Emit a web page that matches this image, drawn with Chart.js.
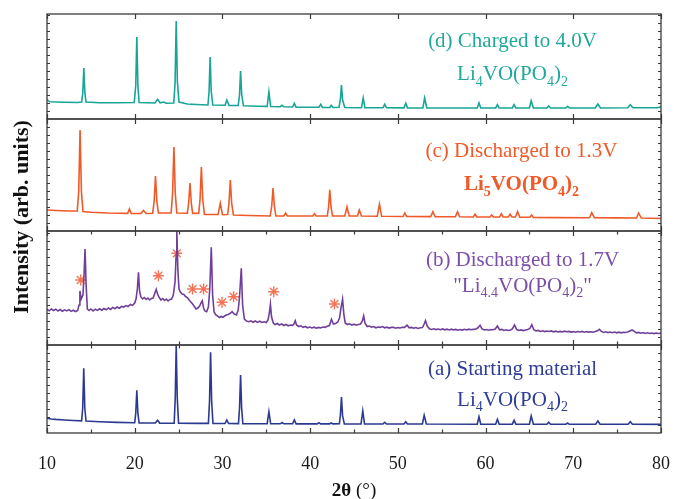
<!DOCTYPE html>
<html>
<head>
<meta charset="utf-8">
<script src="https://cdn.jsdelivr.net/npm/chart.js@4.4.1/dist/chart.umd.min.js"></script>
<style>
html,body{margin:0;padding:0;background:#fff;}
#wrap{position:relative;width:674px;height:499px;}
</style>
</head>
<body>
<div id="wrap"><canvas id="c" width="674" height="499"></canvas></div>
<script>
// ---- Data (2θ in degrees, intensity in arbitrary units per panel) ----
const xTicks = [10, 20, 30, 40, 50, 60, 70, 80];

const patternA = [[10,14.7],[10.5,14],[11,13.6],[12,13],[13,12.5],[13.95,12.2],[14.07,25],[14.19,64.7],[14.31,25],[14.45,12],[16,11.3],[18,10.6],[20.0,10.2],[20.12,20],[20.24,42.7],[20.36,20],[20.5,10.1],[22.35,10],[22.6,12.7],[22.85,9.9],[24.5,9.8],[24.62,35],[24.73,87.5],[24.85,35],[25.0,9.8],[27,9.6],[28.4,9.6],[28.53,32],[28.65,80.7],[28.77,32],[28.92,9.5],[30.3,9.5],[30.5,13],[30.7,9.5],[31.83,9.4],[31.95,25],[32.07,58],[32.19,25],[32.33,9.3],[35.1,9.3],[35.3,21.3],[35.5,9.2],[36.6,9.2],[36.8,10.5],[37,9.2],[38,9.2],[38.2,13],[38.4,9.1],[40.8,9.1],[41.0,10.3],[41.2,9.1],[42.2,9.1],[42.4,10],[42.6,9.1],[43.33,9.2],[43.45,18],[43.57,36],[43.7,17],[43.9,9.1],[45.8,9],[46.0,22],[46.2,9],[48.3,9],[48.5,10.7],[48.7,9],[50.7,9],[50.9,11.3],[51.1,9],[52.8,9],[53.0,17.7],[53.25,9],[59.05,8.8],[59.25,16.3],[59.45,8.8],[61.15,8.8],[61.35,13.7],[61.55,8.8],[63.05,8.8],[63.25,12.7],[63.45,8.8],[65.0,8.8],[65.2,17],[65.45,8.7],[67.0,8.7],[67.2,10.7],[67.4,8.7],[69.15,8.7],[69.35,10],[69.55,8.7],[72.55,8.7],[72.8,12],[73.05,8.7],[76.25,8.7],[76.5,11.3],[76.75,8.7],[80,8.6]];

const patternB = [[10,35.7],[10.25,34.2],[10.5,36],[10.75,34.5],[11,35.8],[11.25,34],[11.5,35.5],[11.75,33.8],[12,35.2],[12.25,34.1],[12.5,35.4],[12.75,33.6],[13,34.8],[13.25,33.5],[13.5,34.6],[13.65,40],[13.75,54],[13.9,46],[14.1,50],[14.22,70],[14.34,96],[14.46,60],[14.6,36],[14.8,34.5],[15,36],[15.25,34],[15.5,35.8],[15.75,34.6],[16,36.2],[16.25,34.8],[16.5,36.5],[16.75,35.2],[17,37],[17.25,35.6],[17.5,37.5],[17.75,36.4],[18,38],[18.25,36.8],[18.5,38.6],[18.75,37.8],[19,39.4],[19.25,38.4],[19.5,40.5],[19.75,39.6],[20,42],[20.15,46],[20.3,56],[20.43,72.7],[20.55,54],[20.7,48],[20.9,46],[21.1,47.5],[21.3,45.5],[21.5,47],[21.7,45],[21.9,46.5],[22.1,47],[22.3,52],[22.45,55.7],[22.6,51],[22.8,47.5],[23,45],[23.2,46.5],[23.4,44.5],[23.6,46],[23.8,44],[24,45.5],[24.2,46],[24.4,50],[24.6,63.3],[24.72,90],[24.8,114],[24.92,75],[25.05,56],[25.2,53],[25.4,51],[25.6,50.5],[25.8,48.5],[26,47.5],[26.2,45],[26.4,43],[26.6,41],[26.8,38.5],[27,36],[27.2,37],[27.4,39],[27.55,42],[27.7,44.3],[27.85,37],[28,34],[28.2,33.3],[28.4,38],[28.55,55],[28.73,97.7],[28.88,50],[29.05,33],[29.25,30],[29.45,29],[29.65,27.5],[29.85,28.5],[30.05,27.7],[30.25,29],[30.45,30],[30.65,30.5],[30.85,31.5],[31.1,33.3],[31.35,31],[31.6,30],[31.8,35],[31.95,48],[32.15,76.7],[32.3,40],[32.5,26],[32.75,24],[33,23.3],[33.25,24.2],[33.5,22.8],[33.75,24],[34,22.6],[34.25,23.8],[34.5,22.5],[34.75,23.2],[35,22.5],[35.2,25],[35.35,32],[35.47,41],[35.6,28],[35.8,22],[36,20.5],[36.25,21.5],[36.5,20],[36.75,21],[37,19.5],[37.25,20.5],[37.5,19.2],[37.75,20],[38,19.6],[38.15,21],[38.3,24.3],[38.45,20],[38.7,18.5],[38.95,19.2],[39.2,17.6],[39.45,18.5],[39.7,17.2],[39.95,18],[40.2,17],[40.45,17.8],[40.7,16.8],[40.95,17.6],[41.2,17],[41.45,18],[41.7,17.6],[41.95,18.8],[42.2,19.5],[42.43,25.7],[42.65,21],[42.9,21.5],[43.15,23],[43.35,27],[43.5,36],[43.7,45.8],[43.85,30],[44,22],[44.25,20.5],[44.5,21.2],[44.75,20],[45,20.8],[45.25,19.8],[45.5,20.5],[45.75,21],[45.95,24],[46.1,29],[46.25,22],[46.5,18.5],[46.75,19],[47,17.8],[47.25,18.5],[47.5,17.2],[47.75,18],[48,17.6],[48.25,18.4],[48.5,17.2],[48.75,17.8],[49,16.9],[49.25,17.6],[49.5,17.8],[49.75,16.8],[50,17.4],[50.25,17],[50.5,17.8],[50.75,17.6],[51.05,19.8],[51.3,17.2],[51.55,17.6],[51.8,16.8],[52.05,17.4],[52.3,16.6],[52.55,17.2],[52.8,17.5],[53.0,21],[53.15,24.3],[53.35,19],[53.6,16.2],[53.85,15.6],[54.1,16.2],[54.35,15.4],[54.6,16],[54.85,15.3],[55.1,16.1],[55.35,15.2],[55.6,15.8],[55.85,15],[56.1,15.8],[56.35,15.1],[56.6,15.6],[56.85,14.8],[57.1,15.5],[57.35,14.9],[57.6,15.7],[57.85,15],[58.1,15.8],[58.35,15.2],[58.6,15.6],[58.85,15.8],[59.1,17],[59.37,19.7],[59.6,16],[59.85,15],[60.1,15.5],[60.35,14.8],[60.6,15.4],[60.85,15.2],[61.1,16],[61.35,19],[61.6,15.2],[61.85,15.6],[62.1,14.6],[62.35,15.2],[62.6,14.5],[62.85,15],[63.05,16],[63.3,20],[63.55,15.4],[63.8,14.5],[64.05,15.1],[64.3,14.4],[64.55,15],[64.8,15.4],[65.05,16.5],[65.27,20.3],[65.5,15.2],[65.75,14],[66,14.6],[66.25,13.6],[66.5,14.2],[66.75,13.4],[67,14],[67.25,13.5],[67.5,14.1],[67.75,13.2],[68,13.8],[68.25,13],[68.5,13.6],[68.75,13.1],[69,13.8],[69.25,13.2],[69.5,13.6],[69.75,12.9],[70,13.4],[70.25,12.8],[70.5,13.5],[70.75,13],[71,13.6],[71.25,12.8],[71.5,13.4],[71.75,12.9],[72,13.3],[72.25,12.8],[72.5,13.4],[72.75,14.2],[72.97,15.7],[73.2,13.6],[73.45,12.6],[73.7,13.2],[73.95,12.4],[74.2,13],[74.45,12.3],[74.7,12.9],[74.95,12.2],[75.2,12.8],[75.45,12.2],[75.7,12.8],[75.95,12.5],[76.2,13],[76.45,14],[76.7,15],[76.95,13.6],[77.2,12.2],[77.45,12.6],[77.7,11.8],[77.95,12.4],[78.2,11.6],[78.45,12.2],[78.7,11.5],[78.95,12],[79.2,11.4],[79.45,12],[79.7,11.5],[80,11.7]];

const patternC = [[10,21],[11,20.5],[12.5,20],[13.45,20],[13.62,40],[13.77,101],[13.92,40],[14.1,19.5],[15,18.8],[17,18],[19.2,17.6],[19.4,22],[19.6,17.5],[20.7,17.6],[21.0,20.5],[21.3,17.5],[22.05,17.8],[22.22,30],[22.37,55],[22.52,30],[22.7,18],[24.15,18],[24.32,38],[24.47,84],[24.62,38],[24.8,18],[26.0,17.8],[26.15,28],[26.3,48],[26.45,28],[26.6,17.6],[27.3,17.8],[27.45,32],[27.6,64],[27.75,32],[27.95,16.5],[29.5,16.5],[29.76,27.7],[30.0,16.3],[30.6,16.5],[30.75,28],[30.9,51],[31.05,28],[31.25,16],[33,15.5],[35.45,15],[35.62,25],[35.77,43],[35.92,25],[36.1,15],[37.0,15],[37.2,18],[37.4,15],[40.3,15],[40.5,17.3],[40.7,15],[41.95,15],[42.1,24],[42.24,41.3],[42.38,24],[42.55,15],[43.95,15],[44.2,24],[44.45,15],[45.4,15],[45.6,21],[45.85,15],[47.65,14.8],[47.9,26.7],[48.15,14.7],[50.6,14.5],[50.8,18],[51.0,14.5],[53.75,14.4],[54.0,19.3],[54.25,14.3],[56.55,14.2],[56.8,19.3],[57.05,14.2],[58.6,14],[58.8,16.7],[59.0,14],[60.5,14],[60.7,16],[60.9,14],[61.6,14],[61.8,17.3],[62.0,14],[62.6,14],[62.8,16.7],[63.0,14],[63.4,14],[63.65,19.3],[63.9,13.8],[65.05,13.8],[65.25,16],[65.45,13.6],[68,13.4],[71.85,13.3],[72.1,18.3],[72.4,13.3],[75,13.1],[77.2,13],[77.45,18],[77.75,13],[80,12.5]];

const patternD = [[10.0,19.5],[10.3,17.2],[11,17],[12,16.7],[13.5,16.5],[13.95,17],[14.08,26],[14.2,51],[14.32,26],[14.45,17],[16,16.3],[18,16.2],[19.95,16.5],[20.12,34],[20.24,82],[20.36,34],[20.5,16.5],[22.3,16],[22.6,19.7],[22.9,16.2],[23.3,17],[23.6,15.8],[24.45,16],[24.6,36],[24.73,98],[24.86,38],[25.05,17],[26,15],[27,14.5],[28.35,14],[28.48,28],[28.6,62],[28.72,28],[28.9,14],[30.3,13.8],[30.5,19],[30.75,13.6],[31.8,13.5],[31.95,24],[32.07,48],[32.2,24],[32.4,13.2],[34,12.8],[35.1,12.6],[35.3,27],[35.5,12.5],[36.6,12.3],[36.8,13.7],[37,12.2],[38,12],[38.2,15.7],[38.4,11.9],[41,11.7],[41.2,14.7],[41.4,11.6],[42.25,11.5],[42.4,13.7],[42.6,11.5],[43.3,11.8],[43.45,20],[43.57,34],[43.7,19],[43.95,11.5],[45.85,11.3],[46.05,21],[46.25,11.3],[48.3,11.2],[48.5,14.7],[48.7,11.2],[50.7,11.1],[50.9,15.7],[51.1,11.1],[52.85,11],[53.05,21],[53.3,11],[56,11],[59.05,11],[59.25,16],[59.45,11],[61.15,11],[61.35,14.3],[61.55,11],[63.05,11],[63.25,14.3],[63.45,11],[65,11],[65.2,18.3],[65.45,11],[67,11],[67.2,13],[67.4,11],[69.15,11],[69.35,12.7],[69.55,11],[72.5,11],[72.8,15],[73.1,11],[76.2,11.2],[76.5,14.3],[76.8,11.2],[79.6,11.3],[80,12.2]];

// impurity markers (*) in pattern (b)
const starTheta     = [13.85, 22.7, 24.8, 26.6, 27.85, 29.95, 31.27, 35.85, 42.77];
const starIntensity = [65,    69.3, 91.7, 56,   56,    42.7,  48.3,  53.3,  41];

// panel ranges (arb. units) — bottom to top: a, b, c, d
const panelMax = [88, 114, 112, 105];

const lineColors = ['#2B3990', '#6F3F9A', '#F05A28', '#17A597'];
const textColors = ['#2E3D98', '#7A4FA8', '#F05A28', '#1FA99A'];
const starColor = '#F47458';

const panelTitles = ['(a) Starting material', '(b) Discharged to 1.7V', '(c) Discharged to 1.3V', '(d) Charged to 4.0V'];
// formula parts: [text, isSubscript]
const panelFormulas = [
  [['Li',0],['4',1],['VO(PO',0],['4',1],[')',0],['2',1]],
  [['"Li',0],['4.4',1],['VO(PO',0],['4',1],[')',0],['2',1],['"',0]],
  [['Li',0],['5',1],['VO(PO',0],['4',1],[')',0],['2',1]],
  [['Li',0],['4',1],['VO(PO',0],['4',1],[')',0],['2',1]]
];
const formulaBold = [false, false, true, false];
const yTitle = 'Intensity (arb. units)';

// ---- Chart ----
const SERIF = "'Liberation Serif', 'Times New Roman', serif";
const panelIds = ['ya', 'yb', 'yc', 'yd'];

function toXY(arr){ return arr.map(p => ({x: p[0], y: p[1]})); }

const patterns = [patternA, patternB, patternC, patternD];
const datasets = patterns.map((p, i) => ({
  type: 'line',
  data: toXY(p),
  yAxisID: panelIds[i],
  borderColor: lineColors[i],
  borderWidth: 1.6,
  pointRadius: 0,
  tension: 0,
  fill: false
}));
datasets.push({
  type: 'scatter',
  data: starTheta.map((t, i) => ({x: t, y: starIntensity[i]})),
  yAxisID: 'yb',
  pointStyle: 'star',
  pointRadius: 5.5,
  borderColor: starColor,
  backgroundColor: starColor,
  borderWidth: 1.4
});

const yScales = {};
panelIds.forEach((id, i) => {
  yScales[id] = {
    type: 'linear',
    position: 'left',
    stack: 'panels',
    stackWeight: panelMax[i],
    min: 0,
    max: panelMax[i],
    ticks: {display: false},
    grid: {display: false, drawTicks: false},
    border: {display: false},
    afterFit: s => { s.width = 0; }
  };
});

function drawRich(ctx, parts, cx, baseline, size, bold, color){
  const w = bold ? 'bold ' : '';
  const mainF = w + size + 'px ' + SERIF;
  const subF = w + Math.round(size * 0.68) + 'px ' + SERIF;
  let total = 0;
  parts.forEach(p => { ctx.font = p[1] ? subF : mainF; total += ctx.measureText(p[0]).width; });
  let x = cx - total / 2;
  ctx.fillStyle = color;
  ctx.textAlign = 'left';
  ctx.textBaseline = 'alphabetic';
  parts.forEach(p => {
    ctx.font = p[1] ? subF : mainF;
    ctx.fillText(p[0], x, p[1] ? baseline + size * 0.28 : baseline);
    x += ctx.measureText(p[0]).width;
  });
}

// layout of annotation text relative to panel top (pixels)
const titlePos = [[512.5, 29.5, 60.5], [522.5, 35, 60.5], [521.5, 38, 71], [512.5, 32.5, 66]];

const framePlugin = {
  id: 'frames',
  afterDraw(chart){
    const ctx = chart.ctx;
    const xs = chart.scales.x;
    const L = chart.chartArea.left, R = chart.chartArea.right;
    ctx.save();
    panelIds.forEach((id, i) => {
      const s = chart.scales[id];
      const top = s.top, bot = s.bottom;
      ctx.strokeStyle = '#3a3a3a';
      ctx.lineWidth = 1.3;
      ctx.strokeRect(L, top, R - L, bot - top);
      // x ticks (inward)
      ctx.lineWidth = 1.2;
      for (let v = 10; v <= 80; v += 5) {
        const major = v % 10 === 0;
        if (!major && i >= 2) continue;
        const px = Math.round(xs.getPixelForValue(v)) + 0.5;
        const len = major ? 5 : 3.5;
        ctx.beginPath();
        ctx.moveTo(px, top); ctx.lineTo(px, top + len);
        ctx.moveTo(px, bot); ctx.lineTo(px, bot - len);
        ctx.stroke();
      }
      // y ticks (inward, left and right)
      ctx.lineWidth = 1;
      for (let v = 8; v < panelMax[i]; v += 8) {
        const py = Math.round(s.getPixelForValue(v)) + 0.5;
        ctx.beginPath();
        ctx.moveTo(L, py); ctx.lineTo(L + 3, py);
        ctx.moveTo(R, py); ctx.lineTo(R - 3, py);
        ctx.stroke();
      }
      // annotation text
      const tp = titlePos[i];
      drawRich(ctx, [[panelTitles[i], 0]], tp[0], top + tp[1], 21, false, textColors[i]);
      drawRich(ctx, panelFormulas[i], tp[0], top + tp[2], 21, formulaBold[i], textColors[i]);
    });
    // x axis title: bold 2θ + normal (°)
    const cx = (L + R) / 2;
    ctx.textBaseline = 'alphabetic';
    ctx.font = 'bold 19px ' + SERIF;
    const w1 = ctx.measureText('2θ').width;
    ctx.font = '19px ' + SERIF;
    const w2 = ctx.measureText(' (°)').width;
    let x0 = cx - (w1 + w2) / 2;
    ctx.fillStyle = '#111';
    ctx.textAlign = 'left';
    ctx.font = 'bold 19px ' + SERIF;
    ctx.fillText('2θ', x0, 496);
    ctx.font = '19px ' + SERIF;
    ctx.fillText(' (°)', x0 + w1, 496);
    // y axis title
    ctx.translate(22, 217);
    ctx.rotate(-Math.PI / 2);
    ctx.font = 'bold 22px ' + SERIF;
    ctx.fillStyle = '#111';
    ctx.textAlign = 'center';
    ctx.textBaseline = 'middle';
    ctx.fillText(yTitle, 0, 0);
    ctx.restore();
  }
};

new Chart(document.getElementById('c'), {
  type: 'line',
  data: {datasets},
  options: {
    responsive: false,
    animation: false,
    events: [],
    layout: {padding: {left: 47, right: 13, top: 14, bottom: 0}},
    plugins: {legend: {display: false}, tooltip: {enabled: false}},
    scales: Object.assign({
      x: {
        type: 'linear',
        position: 'bottom',
        min: 10, max: 80,
        afterBuildTicks: s => { s.ticks = xTicks.map(v => ({value: v})); },
        ticks: {font: {family: SERIF, size: 18}, color: '#1a1a1a', padding: 20, maxRotation: 0},
        grid: {display: false, drawTicks: false},
        border: {display: false},
        afterFit: s => { s.height = 66; s.paddingLeft = 0; s.paddingRight = 0; }
      }
    }, yScales)
  },
  plugins: [framePlugin]
});
</script>
</body>
</html>
